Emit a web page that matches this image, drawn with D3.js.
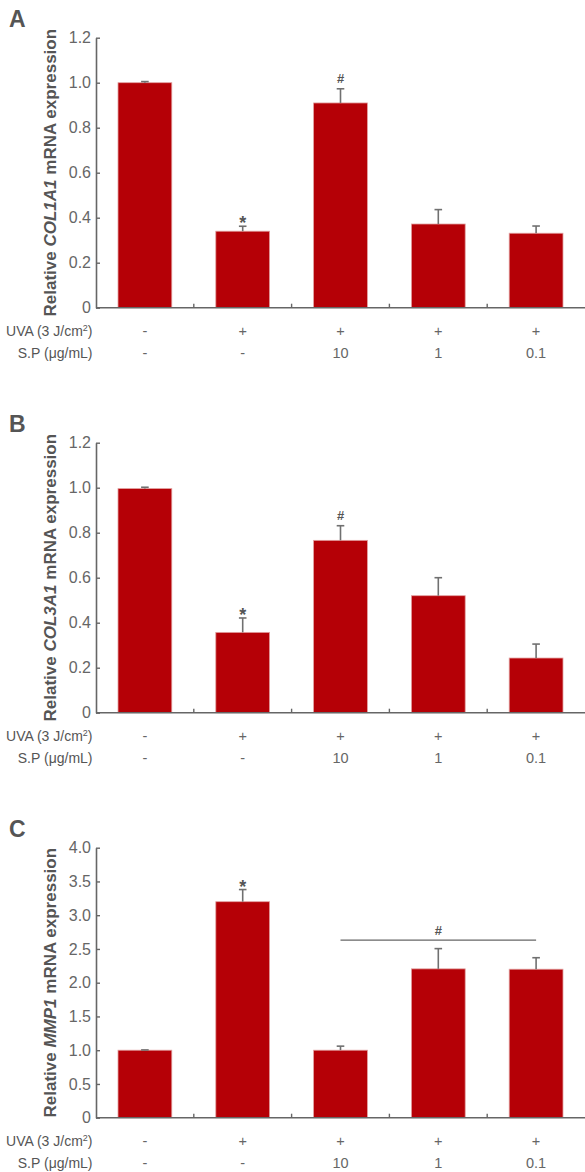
<!DOCTYPE html>
<html>
<head>
<meta charset="utf-8">
<script src="https://cdn.jsdelivr.net/npm/d3@7"></script>
<style>
  body { margin: 0; background: #fff; }
  svg { display: block; }
  text { font-family: "Liberation Sans", Arial, sans-serif; }
</style>
</head>
<body>
<svg width="585" height="1172"></svg>
<script>
const groups = ["ctrl", "uva", "sp10", "sp1", "sp01"];
const uvaLabels = ["-", "+", "+", "+", "+"];
const spLabels = ["-", "-", "10", "1", "0.1"];

const col1a1Mean = [1.0, 0.34, 0.91, 0.372, 0.331];
const col1a1Err = [0.005, 0.022, 0.063, 0.064, 0.032];
const col1a1Marks = ["", "*", "#", "", ""];

const col3a1Mean = [0.996, 0.357, 0.766, 0.52, 0.243];
const col3a1Err = [0.006, 0.064, 0.065, 0.08, 0.062];
const col3a1Marks = ["", "*", "#", "", ""];

const mmp1Mean = [1.0, 3.2, 1.0, 2.205, 2.2];
const mmp1Err = [0.004, 0.18, 0.06, 0.3, 0.17];
const mmp1Marks = ["", "*", "", "", ""];
const mmp1Bracket = { from: "sp10", to: "sp01", level: 2.63, mark: "#" };

const col1a1Ticks = [0, 0.2, 0.4, 0.6, 0.8, 1.0, 1.2];
const col3a1Ticks = [0, 0.2, 0.4, 0.6, 0.8, 1.0, 1.2];
const mmp1Ticks = [0, 0.5, 1.0, 1.5, 2.0, 2.5, 3.0, 3.5, 4.0];

const barColor = "#b50006";
const inkColor = "#666";
const svg = d3.select("svg");
const fmt = d => d === 0 ? "0" : d3.format(".1f")(d);

const panels = [
  { letter: "A", gene: "COL1A1", mean: col1a1Mean, err: col1a1Err, marks: col1a1Marks, ticks: col1a1Ticks },
  { letter: "B", gene: "COL3A1", mean: col3a1Mean, err: col3a1Err, marks: col3a1Marks, ticks: col3a1Ticks },
  { letter: "C", gene: "MMP1", mean: mmp1Mean, err: mmp1Err, marks: mmp1Marks, ticks: mmp1Ticks, bracket: mmp1Bracket }
];

const axisX = 96, rightX = 585;

const x = d3.scaleBand()
  .domain(groups)
  .range([axisX, rightX])
  .paddingInner(0.45)
  .paddingOuter(0.225);

panels.forEach((p, i) => {
  const top = 37.7 + 405 * i;
  const base = top + 270;
  const g = svg.append("g");

  const y = d3.scaleLinear()
    .domain([0, d3.max(p.ticks)])
    .range([base, top]);

  // panel letter
  g.append("text")
    .attr("x", 9)
    .attr("y", top - 10.5)
    .attr("font-size", 23)
    .attr("font-weight", "bold")
    .attr("fill", "#555")
    .text(p.letter);

  // y title
  const title = g.append("text")
    .attr("transform", `translate(56, ${(top + base) / 2}) rotate(-90)`)
    .attr("text-anchor", "middle")
    .attr("font-size", 17)
    .attr("font-weight", "bold")
    .attr("fill", "#555");
  title.append("tspan").text("Relative ");
  title.append("tspan").attr("font-style", "italic").text(p.gene);
  title.append("tspan").text(" mRNA expression");

  // bars
  g.selectAll("rect.bar")
    .data(groups)
    .join("rect")
    .attr("class", "bar")
    .attr("x", d => x(d))
    .attr("width", x.bandwidth())
    .attr("y", (d, j) => y(p.mean[j]))
    .attr("height", (d, j) => base - y(p.mean[j]))
    .attr("fill", barColor)
    .attr("stroke", "#e2a0a0")
    .attr("stroke-width", 0.8);

  // error bars (upper only)
  const eb = g.selectAll("g.err")
    .data(groups)
    .join("g")
    .attr("class", "err")
    .attr("stroke", "#707070")
    .attr("stroke-width", 1.6);
  eb.append("line")
    .attr("x1", d => x(d) + x.bandwidth() / 2)
    .attr("x2", d => x(d) + x.bandwidth() / 2)
    .attr("y1", (d, j) => y(p.mean[j]))
    .attr("y2", (d, j) => y(p.mean[j] + p.err[j]));
  eb.append("line")
    .attr("x1", d => x(d) + x.bandwidth() / 2 - 3.8)
    .attr("x2", d => x(d) + x.bandwidth() / 2 + 3.8)
    .attr("y1", (d, j) => y(p.mean[j] + p.err[j]))
    .attr("y2", (d, j) => y(p.mean[j] + p.err[j]));

  // significance marks
  g.selectAll("text.mark")
    .data(groups)
    .join("text")
    .attr("class", "mark")
    .attr("x", d => x(d) + x.bandwidth() / 2)
    .attr("y", (d, j) => y(p.mean[j] + p.err[j]) + (p.marks[j] === "*" ? 3 : -6))
    .attr("text-anchor", "middle")
    .attr("font-size", (d, j) => p.marks[j] === "*" ? 18 : 13)
    .attr("font-weight", "bold")
    .attr("fill", "#555")
    .text((d, j) => p.marks[j]);

  if (p.bracket) {
    const b = p.bracket;
    const x1 = x(b.from) + x.bandwidth() / 2;
    const x2 = x(b.to) + x.bandwidth() / 2;
    g.append("line")
      .attr("x1", x1).attr("x2", x2)
      .attr("y1", y(b.level)).attr("y2", y(b.level))
      .attr("stroke", "#666").attr("stroke-width", 1.2);
    g.append("text")
      .attr("x", (x1 + x2) / 2)
      .attr("y", y(b.level) - 5)
      .attr("text-anchor", "middle")
      .attr("font-size", 13)
      .attr("font-weight", "bold")
      .attr("fill", "#555")
      .text(b.mark);
  }

  // y axis
  const yAxis = g.append("g")
    .attr("transform", `translate(${axisX},0)`)
    .call(d3.axisLeft(y).tickValues(p.ticks).tickFormat(fmt).tickSizeInner(-4).tickSizeOuter(0).tickPadding(5));
  yAxis.select(".domain").attr("stroke", inkColor).attr("stroke-width", 1.6);
  yAxis.selectAll(".tick line").attr("stroke", inkColor).attr("stroke-width", 1.4);
  yAxis.selectAll(".tick text")
    .attr("fill", inkColor)
    .attr("font-size", 16)
    .attr("font-family", "Liberation Sans, Arial, sans-serif");

  // x axis baseline with ticks between bands
  g.append("line")
    .attr("x1", axisX).attr("x2", rightX)
    .attr("y1", base).attr("y2", base)
    .attr("stroke", inkColor).attr("stroke-width", 1.6);
  g.selectAll("line.xtick")
    .data(groups.slice(1))
    .join("line")
    .attr("class", "xtick")
    .attr("x1", d => x(d) - x.step() * x.paddingInner() / 2)
    .attr("x2", d => x(d) - x.step() * x.paddingInner() / 2)
    .attr("y1", base)
    .attr("y2", base - 4)
    .attr("stroke", inkColor)
    .attr("stroke-width", 1.4);

  // condition rows
  const rows = [
    { y: base + 28, labels: uvaLabels, name: "uva" },
    { y: base + 50.5, labels: spLabels, name: "sp" }
  ];
  rows.forEach(r => {
    const lab = g.append("text")
      .attr("x", 92.5)
      .attr("y", r.y)
      .attr("text-anchor", "end")
      .attr("font-size", 14)
      .attr("fill", "#555");
    if (r.name === "uva") {
      lab.append("tspan").text("UVA (3 J/cm");
      lab.append("tspan").attr("font-size", 9).attr("dy", -5).text("2");
      lab.append("tspan").attr("dy", 5).text(")");
    } else {
      lab.text("S.P (\u03bcg/mL)");
    }
    g.selectAll(null)
      .data(groups)
      .join("text")
      .attr("x", d => x(d) + x.bandwidth() / 2)
      .attr("y", r.y)
      .attr("text-anchor", "middle")
      .attr("font-size", 14.5)
      .attr("fill", inkColor)
      .text((d, j) => r.labels[j]);
  });
});
</script>
</body>
</html>
